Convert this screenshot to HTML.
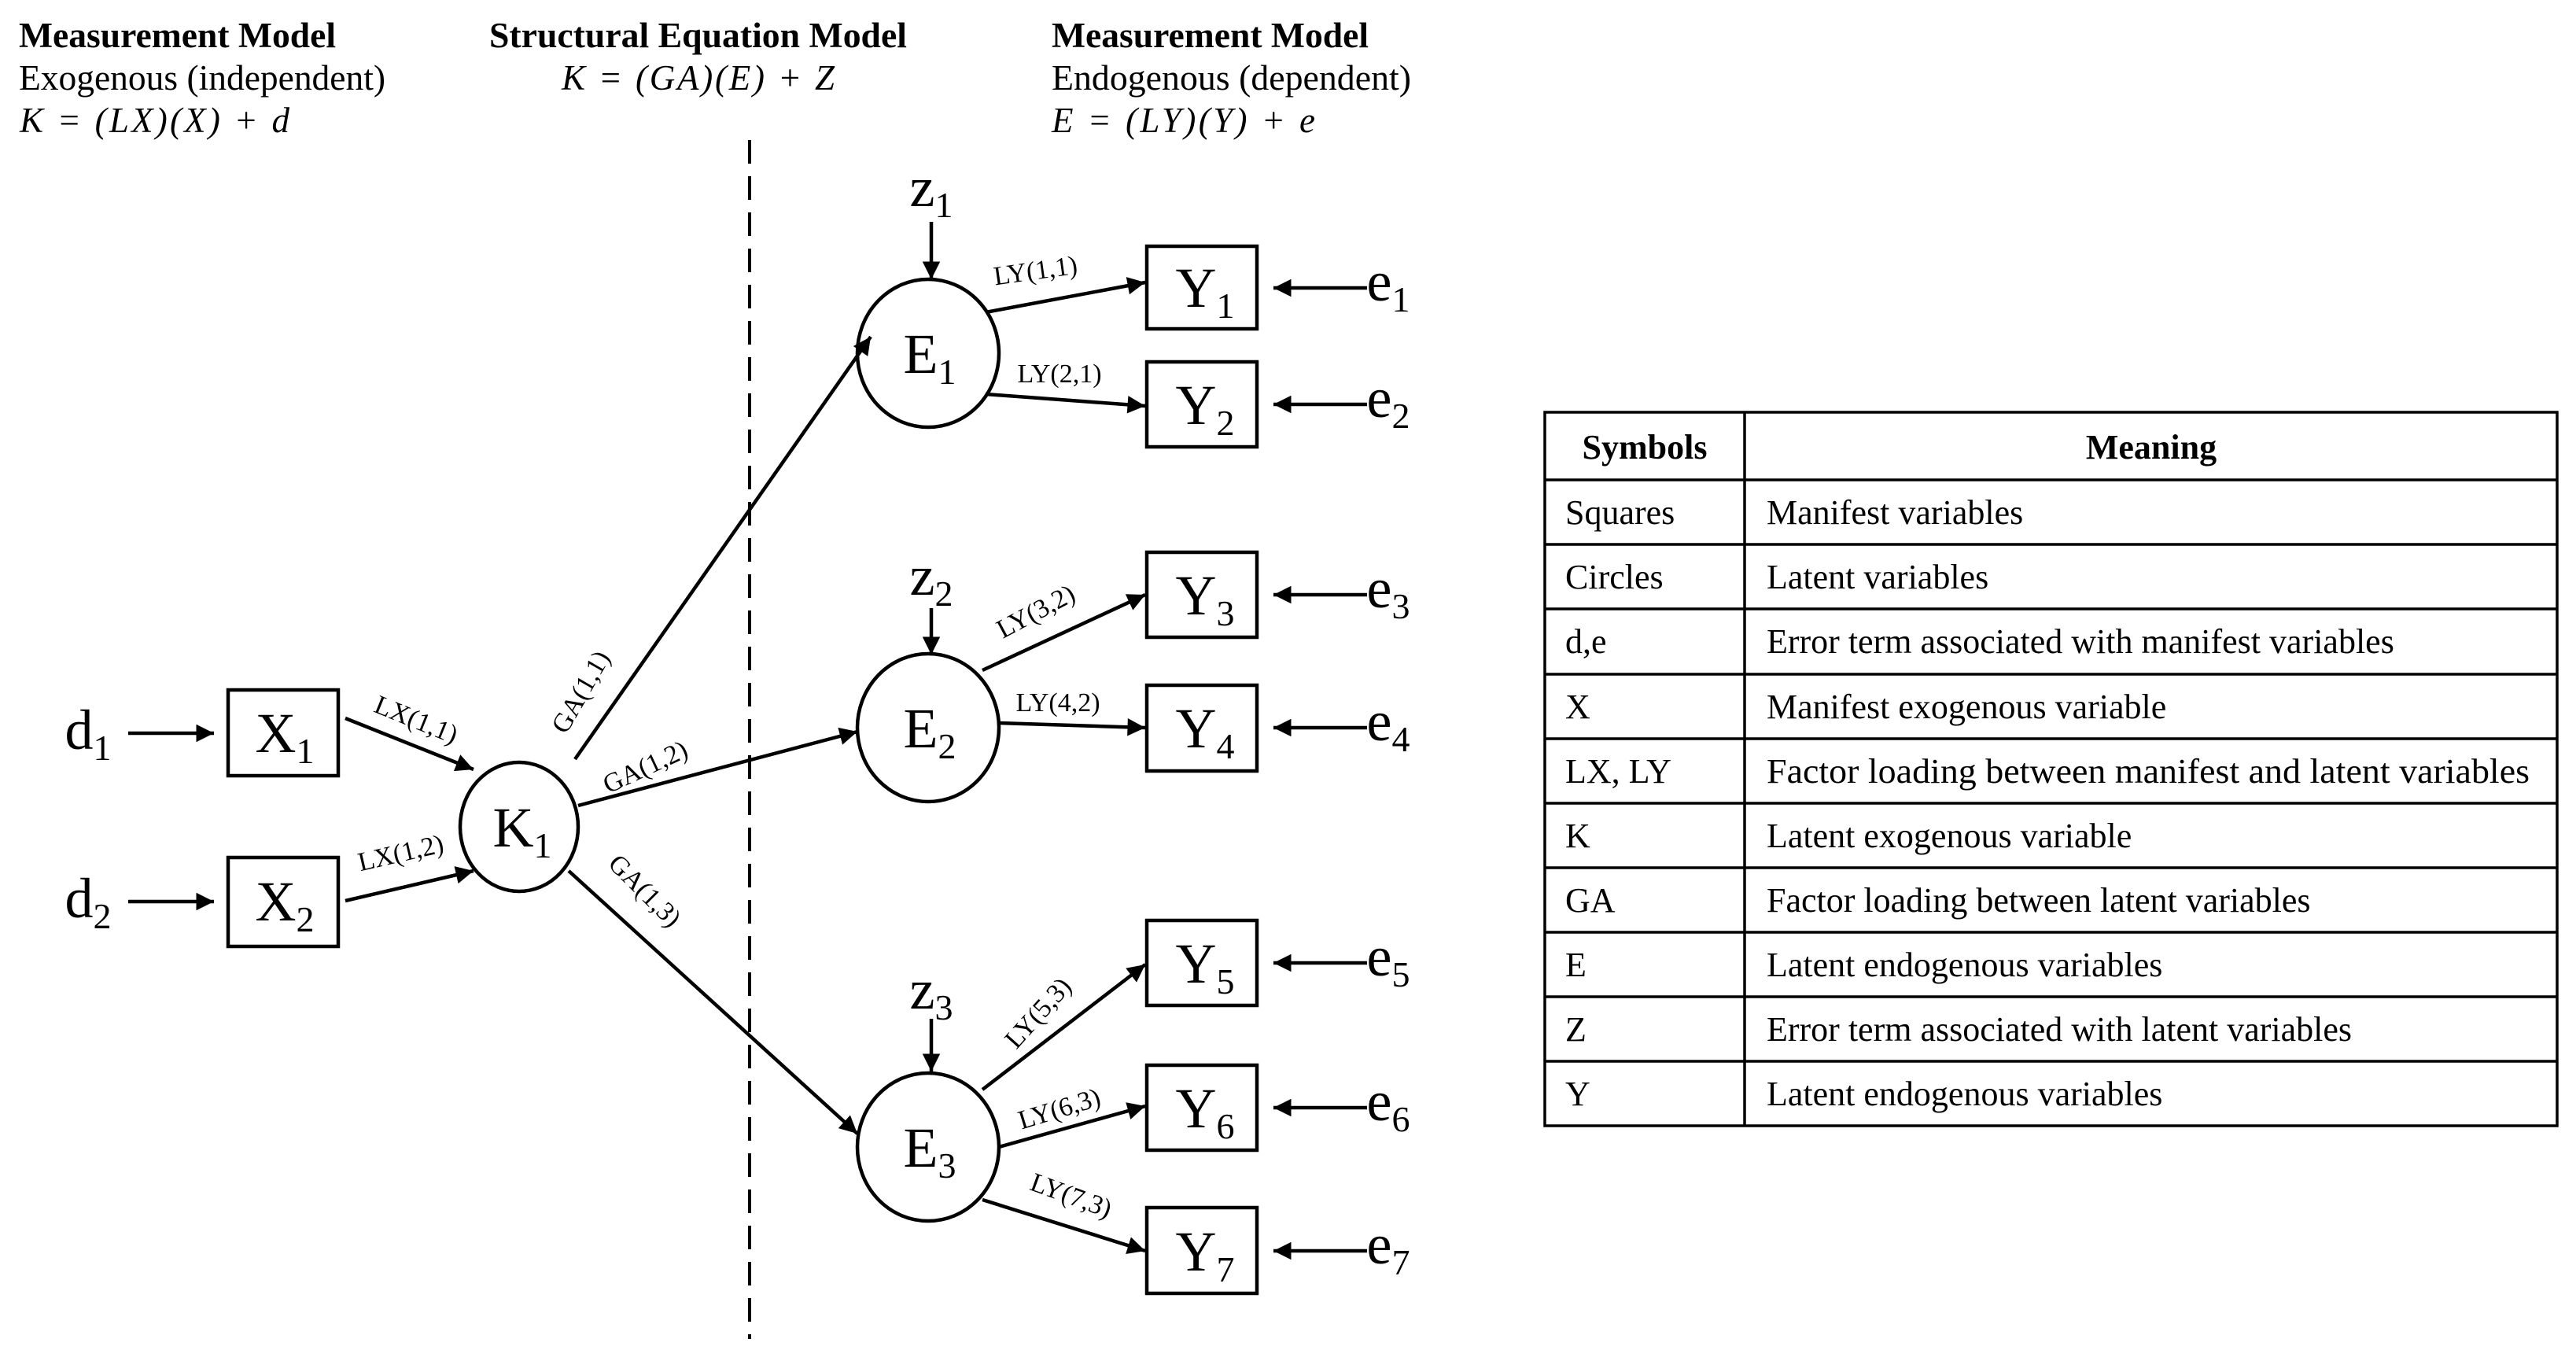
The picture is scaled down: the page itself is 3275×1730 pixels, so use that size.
<!DOCTYPE html>
<html><head><meta charset="utf-8"><style>
html,body{margin:0;padding:0;background:#fff;}
svg{display:block;}
text{font-family:"Liberation Serif",serif;fill:#000;}
</style></head><body>
<svg width="3275" height="1730" viewBox="0 0 3275 1730" xmlns="http://www.w3.org/2000/svg">
<defs>
<marker id="a" viewBox="0 0 10 10" refX="10" refY="5" markerWidth="6" markerHeight="5" orient="auto" markerUnits="strokeWidth">
<path d="M0,0 L10,5 L0,10 z" fill="#000"/></marker>
</defs>
<!-- headers -->
<g font-size="45">
<text x="24" y="60" font-weight="bold" textLength="403" lengthAdjust="spacingAndGlyphs">Measurement Model</text>
<text x="24" y="114" textLength="466" lengthAdjust="spacingAndGlyphs">Exogenous (independent)</text>
<text x="25" y="168" font-style="italic" textLength="343" lengthAdjust="spacing">K = (LX)(X) + d</text>
<text x="622" y="60" font-weight="bold" textLength="531" lengthAdjust="spacingAndGlyphs">Structural Equation Model</text>
<text x="714" y="114" font-style="italic" textLength="347" lengthAdjust="spacing">K = (GA)(E) + Z</text>
<text x="1337" y="60" font-weight="bold" textLength="403" lengthAdjust="spacingAndGlyphs">Measurement Model</text>
<text x="1337" y="114" textLength="457" lengthAdjust="spacingAndGlyphs">Endogenous (dependent)</text>
<text x="1337" y="168" font-style="italic" textLength="335" lengthAdjust="spacing">E = (LY)(Y) + e</text>
</g>
<line x1="953" y1="178" x2="953" y2="1702" stroke="#000" stroke-width="4" stroke-dasharray="30,16"/>
<g fill="#fff" stroke="#000" stroke-width="4.5">
<rect x="290" y="877" width="140" height="109"/>
<rect x="290" y="1090" width="140" height="113"/>
<ellipse cx="660" cy="1051" rx="75" ry="82"/>
<ellipse cx="1180" cy="449" rx="90" ry="94"/>
<ellipse cx="1180" cy="925" rx="90" ry="94"/>
<ellipse cx="1180" cy="1458" rx="90" ry="94"/>
<rect x="1458" y="313" width="140" height="105"/>
<rect x="1458" y="460" width="140" height="108"/>
<rect x="1458" y="702" width="140" height="108"/>
<rect x="1458" y="871" width="140" height="109"/>
<rect x="1458" y="1170" width="140" height="108"/>
<rect x="1458" y="1354" width="140" height="108"/>
<rect x="1458" y="1535" width="140" height="109"/>
</g>
<g stroke="#000" stroke-width="4.5" marker-end="url(#a)">
<line x1="163" y1="932" x2="272" y2="932"/>
<line x1="163" y1="1146" x2="272" y2="1146"/>
<line x1="439" y1="913" x2="602" y2="978"/>
<line x1="439" y1="1145" x2="602" y2="1107"/>
<line x1="731" y1="965" x2="1107" y2="428"/>
<line x1="735" y1="1024" x2="1090" y2="930"/>
<line x1="723" y1="1107" x2="1090" y2="1441"/>
<line x1="1253" y1="397" x2="1456" y2="359"/>
<line x1="1253" y1="501" x2="1456" y2="516"/>
<line x1="1249" y1="852" x2="1456" y2="756"/>
<line x1="1270" y1="919" x2="1456" y2="925"/>
<line x1="1249" y1="1385" x2="1456" y2="1226"/>
<line x1="1270" y1="1458" x2="1456" y2="1406"/>
<line x1="1249" y1="1525" x2="1456" y2="1590"/>
<line x1="1184" y1="282" x2="1184" y2="355"/>
<line x1="1184" y1="773" x2="1184" y2="832"/>
<line x1="1184" y1="1295" x2="1184" y2="1362"/>
<line x1="1738" y1="366" x2="1619" y2="366"/>
<line x1="1738" y1="514" x2="1619" y2="514"/>
<line x1="1738" y1="756" x2="1619" y2="756"/>
<line x1="1738" y1="925" x2="1619" y2="925"/>
<line x1="1738" y1="1224" x2="1619" y2="1224"/>
<line x1="1738" y1="1408" x2="1619" y2="1408"/>
<line x1="1738" y1="1590" x2="1619" y2="1590"/>
</g>
<!-- node labels -->
<g font-size="72" text-anchor="middle">
<text x="362" y="956">X<tspan font-size="46" dy="14">1</tspan></text>
<text x="362" y="1170">X<tspan font-size="46" dy="14">2</tspan></text>
<text x="664" y="1076">K<tspan font-size="46" dy="14">1</tspan></text>
<text x="1182" y="474">E<tspan font-size="46" dy="14">1</tspan></text>
<text x="1182" y="950">E<tspan font-size="46" dy="14">2</tspan></text>
<text x="1182" y="1483">E<tspan font-size="46" dy="14">3</tspan></text>
<text x="1532" y="390">Y<tspan font-size="46" dy="14">1</tspan></text>
<text x="1532" y="539">Y<tspan font-size="46" dy="14">2</tspan></text>
<text x="1532" y="781">Y<tspan font-size="46" dy="14">3</tspan></text>
<text x="1532" y="950">Y<tspan font-size="46" dy="14">4</tspan></text>
<text x="1532" y="1249">Y<tspan font-size="46" dy="14">5</tspan></text>
<text x="1532" y="1433">Y<tspan font-size="46" dy="14">6</tspan></text>
<text x="1532" y="1615">Y<tspan font-size="46" dy="14">7</tspan></text>
</g>
<g font-size="72" text-anchor="middle">
<text x="112" y="952">d<tspan font-size="46" dy="14">1</tspan></text>
<text x="112" y="1166">d<tspan font-size="46" dy="14">2</tspan></text>
<text x="1184" y="262">z<tspan font-size="46" dy="14">1</tspan></text>
<text x="1184" y="756">z<tspan font-size="46" dy="14">2</tspan></text>
<text x="1184" y="1282">z<tspan font-size="46" dy="14">3</tspan></text>
<text x="1765" y="382">e<tspan font-size="46" dy="14">1</tspan></text>
<text x="1765" y="530">e<tspan font-size="46" dy="14">2</tspan></text>
<text x="1765" y="772">e<tspan font-size="46" dy="14">3</tspan></text>
<text x="1765" y="941">e<tspan font-size="46" dy="14">4</tspan></text>
<text x="1765" y="1240">e<tspan font-size="46" dy="14">5</tspan></text>
<text x="1765" y="1424">e<tspan font-size="46" dy="14">6</tspan></text>
<text x="1765" y="1606">e<tspan font-size="46" dy="14">7</tspan></text>
</g>
<!-- edge labels -->
<g font-size="34" text-anchor="middle">
<text transform="translate(525,925) rotate(22)">LX(1,1)</text>
<text transform="translate(512,1095) rotate(-13)">LX(1,2)</text>
<text transform="translate(748,885) rotate(-60)">GA(1,1)</text>
<text transform="translate(825,985) rotate(-25)">GA(1,2)</text>
<text transform="translate(812,1140) rotate(45)">GA(1,3)</text>
<text transform="translate(1318,355) rotate(-8)">LY(1,1)</text>
<text transform="translate(1347,486)">LY(2,1)</text>
<text transform="translate(1322,787) rotate(-28)">LY(3,2)</text>
<text transform="translate(1345,904)">LY(4,2)</text>
<text transform="translate(1328,1295) rotate(-48)">LY(5,3)</text>
<text transform="translate(1350,1420) rotate(-17)">LY(6,3)</text>
<text transform="translate(1358,1530) rotate(20)">LY(7,3)</text>
</g>
<!-- table -->
<g stroke="#000" stroke-width="3.5" fill="none">
<rect x="1964" y="524" width="1287" height="907"/>
<line x1="2218" y1="524" x2="2218" y2="1431"/>
<line x1="1964" y1="610" x2="3251" y2="610"/>
<line x1="1964" y1="692" x2="3251" y2="692"/>
<line x1="1964" y1="774" x2="3251" y2="774"/>
<line x1="1964" y1="857" x2="3251" y2="857"/>
<line x1="1964" y1="939" x2="3251" y2="939"/>
<line x1="1964" y1="1021" x2="3251" y2="1021"/>
<line x1="1964" y1="1103" x2="3251" y2="1103"/>
<line x1="1964" y1="1185" x2="3251" y2="1185"/>
<line x1="1964" y1="1267" x2="3251" y2="1267"/>
<line x1="1964" y1="1349" x2="3251" y2="1349"/>
</g>
<g font-size="44">
<text x="2091" y="583" font-weight="bold" text-anchor="middle">Symbols</text>
<text x="2735" y="583" font-weight="bold" text-anchor="middle">Meaning</text>
<text x="1990" y="666">Squares</text><text x="2246" y="666">Manifest variables</text>
<text x="1990" y="748">Circles</text><text x="2246" y="748">Latent variables</text>
<text x="1990" y="830">d,e</text><text x="2246" y="830">Error term associated with manifest variables</text>
<text x="1990" y="913">X</text><text x="2246" y="913">Manifest exogenous variable</text>
<text x="1990" y="995">LX, LY</text><text x="2246" y="995" textLength="970" lengthAdjust="spacingAndGlyphs">Factor loading between manifest and latent variables</text>
<text x="1990" y="1077">K</text><text x="2246" y="1077">Latent exogenous variable</text>
<text x="1990" y="1159">GA</text><text x="2246" y="1159">Factor loading between latent variables</text>
<text x="1990" y="1241">E</text><text x="2246" y="1241">Latent endogenous variables</text>
<text x="1990" y="1323">Z</text><text x="2246" y="1323">Error term associated with latent variables</text>
<text x="1990" y="1405">Y</text><text x="2246" y="1405">Latent endogenous variables</text>
</g>
</svg>
</body></html>
